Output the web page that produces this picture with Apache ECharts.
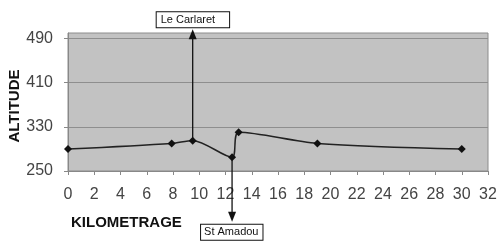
<!DOCTYPE html>
<html><head><meta charset="utf-8">
<script src="https://cdn.jsdelivr.net/npm/echarts@6/dist/echarts.min.js"></script>
<style>html,body{margin:0;padding:0;background:#fff}#c{width:498px;height:242px}</style>
</head><body><div id="c"></div>
<script>
const km = [0, 7.9, 9.5, 12.5, 13, 19, 30];
const altitude = [290, 300, 305, 275, 320, 300, 290];
const yTicks = [250, 330, 410, 490];
const places = ["Le Carlaret", "St Amadou"];
const placeKm = [9.5, 12.5];
const placeFrom = [305, 275];
const placeTo = [507, 158];

const chart = echarts.init(document.getElementById('c'));
const font = 'Liberation Sans, Arial, sans-serif';
chart.setOption({
  animation: false,
  title: [{
    text: 'KILOMETRAGE', left: 66, top: 210,
    textStyle: {fontFamily: font, fontSize: 15, fontWeight: 'bold', color: '#111'}
  }],
  grid: {left: 68, right: 10, top: 33, bottom: 71, show: true, containLabel: false,
    outerBoundsMode: 'none',
    backgroundColor: '#c2c2c2', borderColor: '#8c8c8c', borderWidth: 1},
  xAxis: {
    type: 'value', min: 0, max: 32, interval: 2,
    axisLine: {show: true, lineStyle: {color: '#888', width: 1}},
    axisTick: {show: true, length: 4, lineStyle: {color: '#888'}},
    splitLine: {show: false},
    axisLabel: {fontFamily: font, fontSize: 16, color: '#444', margin: 16}
  },
  yAxis: {
    type: 'value', min: 250, max: 500,
    name: 'ALTITUDE', nameLocation: 'middle', nameGap: 46, nameRotate: 90,
    nameMoveOverlap: false,
    nameTextStyle: {fontFamily: font, fontSize: 15, fontWeight: 'bold', color: '#111', padding: [0, 0, 0, -8]},
    axisLine: {show: true, lineStyle: {color: '#888', width: 1}},
    axisTick: {show: true, length: 4, customValues: yTicks, lineStyle: {color: '#888'}},
    splitLine: {show: true, lineStyle: {color: '#8e8e8e', width: 1}},
    axisLabel: {fontFamily: font, fontSize: 16, color: '#444', margin: 15, customValues: yTicks}
  },
  series: [{
    type: 'line', clip: false, smooth: 0.3,
    data: km.map((x, i) => [x, altitude[i]]),
    symbol: 'diamond', symbolSize: 8,
    itemStyle: {color: '#111'},
    lineStyle: {color: '#222', width: 1.5}
  }]
});

const els = [];
places.forEach((name, i) => {
  const a = chart.convertToPixel({seriesIndex: 0}, [placeKm[i], placeFrom[i]]);
  const b = chart.convertToPixel({seriesIndex: 0}, [placeKm[i], placeTo[i]]);
  const up = b[1] < a[1];
  const dir = up ? 1 : -1;
  els.push({type: 'line', shape: {x1: a[0], y1: a[1], x2: b[0], y2: b[1] + dir * 8},
    style: {stroke: '#111', lineWidth: 1.3}, z: 10});
  els.push({type: 'polygon', shape: {points: [[b[0], b[1]], [b[0] - 4, b[1] + dir * 10], [b[0] + 4, b[1] + dir * 10]]},
    style: {fill: '#111'}, z: 10});
  els.push({type: 'text', x: up ? b[0] - 36 : b[0] - 31, y: up ? b[1] - 2 : b[1] + 3,
    style: {text: name, font: '11px ' + font, fill: '#111',
      backgroundColor: '#fff', borderColor: '#111', borderWidth: 1,
      padding: up ? [2, 14, 2, 4] : [2, 4, 2, 3],
      verticalAlign: up ? 'bottom' : 'top', align: 'left'}, z: 11});
});
chart.setOption({graphic: els});
</script></body></html>
